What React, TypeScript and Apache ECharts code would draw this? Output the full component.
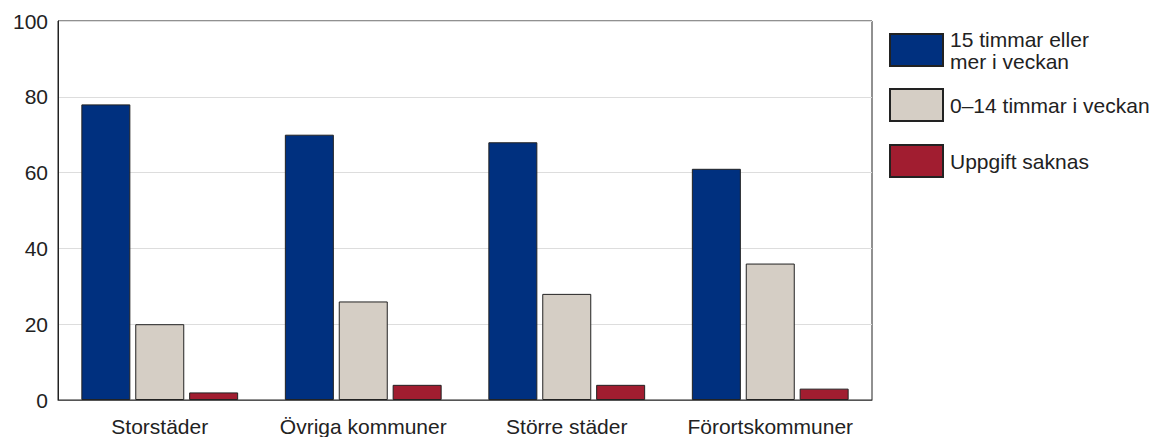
import React, { useEffect, useRef } from "react";
import * as echarts from "echarts";

const categories = ["Storstäder", "Övriga kommuner", "Större städer", "Förortskommuner"];
const seriesNames = ["15 timmar eller\nmer i veckan", "0–14 timmar i veckan", "Uppgift saknas"];
const series15plus = [78, 70, 68, 61];
const series0to14 = [20, 26, 28, 36];
const seriesMissing = [2, 4, 4, 3];
const yTicks = [0, 20, 40, 60, 80, 100];

const colors = ["#00307f", "#d5cec5", "#a11d30"];
const FONT = "'Liberation Sans', Arial, sans-serif";

export default function App() {
  const ref = useRef<HTMLDivElement>(null);
  useEffect(() => {
    if (!ref.current) return;
    const chart = echarts.init(ref.current, undefined, { renderer: "svg" });
    const values = [series15plus, series0to14, seriesMissing];
    const legendTops = [28, 88, 144];
    chart.setOption({
      animation: false,
      textStyle: { fontFamily: FONT },
      grid: {
        left: 58,
        right: 282,
        top: 21,
        bottom: 36,
        show: true,
        borderColor: "#222",
        borderWidth: 1,
        containLabel: false,
      },
      legend: seriesNames.map((n, i) => ({
        data: [n],
        orient: "vertical",
        left: 889,
        top: legendTops[i],
        padding: 0,
        itemWidth: 53,
        itemHeight: 32,
        icon: "rect",
        selectedMode: false,
        textStyle: { fontSize: 21, color: "#222", fontFamily: FONT, lineHeight: 22, padding: [0, 0, 0, 2] },
      })),
      xAxis: {
        type: "category",
        data: categories,
        axisLine: { show: true, lineStyle: { color: "#555", width: 1 } },
        axisTick: { show: false },
        axisLabel: { fontSize: 21, color: "#222", margin: 16, interval: 0, fontFamily: FONT },
      },
      yAxis: {
        type: "value",
        min: yTicks[0],
        max: yTicks[yTicks.length - 1],
        interval: 20,
        axisLine: { show: true, lineStyle: { color: "#222" } },
        axisTick: { show: false },
        splitLine: { lineStyle: { color: "#dddddd", width: 1 } },
        axisLabel: { fontSize: 21, color: "#222", margin: 10, fontFamily: FONT },
      },
      series: seriesNames.map((n, i) => ({
        name: n,
        type: "bar",
        data: values[i],
        barWidth: 49,
        barGap: "10%",
        itemStyle: { color: colors[i], borderColor: "#222", borderWidth: 1 },
      })),
    });
    return () => chart.dispose();
  }, []);
  return (
    <div
      ref={ref}
      style={{ position: "fixed", left: 0, top: 0, width: 1154, height: 437, background: "#fff" }}
    />
  );
}
